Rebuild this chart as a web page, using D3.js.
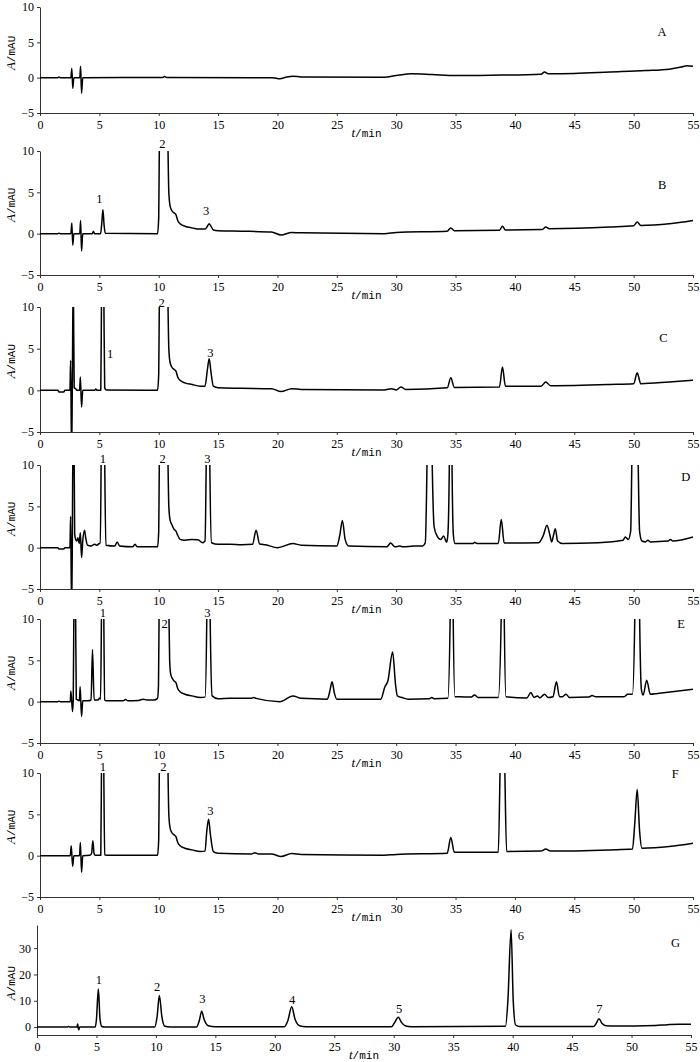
<!DOCTYPE html>
<html><head><meta charset="utf-8">
<script src="https://cdn.jsdelivr.net/npm/d3@7"></script>
<style>
body{margin:0;background:#fff;}
svg{display:block;}
</style></head><body>
<svg id="chart" width="700" height="1062"></svg>
<script>
// ---------------- data ----------------
const timeTicks = [0,5,10,15,20,25,30,35,40,45,50,55];
const absTicks = [-5,0,5,10];
const absTicksG = [0,10,20,30];
const panelNames = ["A","B","C","D","E","F","G"];

const traceA = [[0,0],[1.5,0],[1.6,0.1],[1.7,0],[2.6,0],[2.68,1.3],[2.76,-1.5],[2.85,0],[3.35,0],[3.42,1.6],[3.5,-2.2],[3.6,0],[10.3,0.02],[10.5,0.15],[10.7,0.02],[19.6,0],[20.2,-0.15],[20.8,0.1],[21.3,0.2],[22,0.1],[29,0.05],[30,0.3],[31.3,0.55],[33,0.45],[35,0.3],[38,0.35],[42.2,0.5],[42.5,0.8],[42.8,0.55],[45,0.6],[48,0.8],[51,1.0],[53,1.2],[54,1.5],[54.5,1.7],[55,1.6]];

const traceB = [[0,0],[1.5,0],[1.6,0.05],[1.7,0],[2.6,0],[2.68,1.3],[2.76,-1.4],[2.85,0],[3.35,0],[3.42,1.6],[3.5,-2.1],[3.6,0],[4.4,0],[4.5,0.3],[4.6,0],[5.1,0],[5.2,1.2],[5.3,2.9],[5.4,1.0],[5.5,0.05],[9.9,0],[10.0,2],[10.05,10.5],[10.3,40],[10.6,40],[10.78,10.5],[10.85,5],[10.95,3.4],[11.1,2.8],[11.3,2.5],[11.45,2.3],[11.6,1.6],[11.8,1.2],[12.2,0.9],[12.8,0.7],[13.5,0.55],[13.9,0.55],[14.1,0.9],[14.25,1.2],[14.4,0.9],[14.6,0.45],[15,0.35],[17,0.3],[19.5,0.2],[20.3,-0.15],[21.2,0.15],[22,0.1],[29,0.0],[30,0.15],[34.3,0.3],[34.6,0.7],[34.9,0.35],[38.7,0.4],[38.95,0.9],[39.2,0.45],[42.3,0.5],[42.6,0.8],[42.9,0.6],[48,0.8],[50,0.95],[50.3,1.4],[50.6,1.0],[53,1.2],[55,1.6]];

const traceC = [[0,0],[1.5,0],[1.6,-0.2],[2.0,-0.2],[2.1,0],[2.52,0],[2.58,3.6],[2.66,-8],[2.72,0],[2.8,14],[2.88,0.3],[3.0,0.2],[3.1,0],[3.33,0],[3.4,1.6],[3.5,-2.0],[3.6,0],[4.6,0],[4.7,0.15],[4.8,0],[5.12,0],[5.18,11],[5.28,30],[5.38,11],[5.45,0.3],[5.6,0.05],[9.9,0],[10.0,2],[10.05,10.5],[10.3,40],[10.6,40],[10.78,10.5],[10.85,5],[10.95,3.4],[11.1,2.8],[11.3,2.5],[11.45,2.3],[11.6,1.6],[11.8,1.2],[12.2,0.9],[12.8,0.7],[13.5,0.5],[13.9,0.5],[14.1,2.5],[14.25,3.8],[14.4,2.2],[14.6,0.5],[15,0.3],[17,0.25],[19.5,0.2],[20.3,-0.15],[21.2,0.2],[22,0.1],[29,0.05],[29.6,0.2],[30.0,0.05],[30.4,0.4],[30.8,0.1],[34.3,0.3],[34.6,1.5],[34.9,0.35],[38.7,0.4],[38.95,2.8],[39.2,0.5],[42.2,0.5],[42.6,1.0],[43.0,0.55],[48,0.7],[50.0,0.8],[50.3,2.1],[50.6,0.8],[53,1.0],[55,1.2]];

const traceD = [[0,0],[1.5,0],[1.6,-0.15],[2.0,-0.15],[2.1,0],[2.52,0],[2.58,3.8],[2.66,-8],[2.72,0],[2.78,14],[2.86,14],[2.92,1.7],[3.0,1.0],[3.1,0.8],[3.2,1.2],[3.3,0.5],[3.4,1.8],[3.5,-1.2],[3.6,0.8],[3.75,2.1],[3.85,1.2],[4.0,0.3],[4.3,0.2],[4.6,0.4],[4.8,0.3],[5.0,0.5],[5.08,0.5],[5.15,10.5],[5.3,40],[5.45,10.5],[5.55,0.3],[6.3,0.2],[6.5,0.7],[6.7,0.2],[7.8,0.1],[8.0,0.4],[8.2,0.1],[9.9,0.1],[10.0,2],[10.05,10.5],[10.3,40],[10.6,40],[10.78,10.5],[10.85,5],[10.95,3.4],[11.1,2.8],[11.3,2.2],[11.45,2.0],[11.6,1.5],[11.8,1.0],[12.2,0.9],[12.8,1.0],[13.3,0.95],[13.7,0.6],[13.9,0.8],[14.0,10.5],[14.15,40],[14.3,10.5],[14.45,0.6],[15,0.4],[16,0.4],[17,0.35],[17.9,0.4],[18.2,2.1],[18.5,0.45],[19,0.35],[20.0,0.0],[21.3,0.5],[22,0.3],[25.0,0.2],[25.25,1.5],[25.47,3.3],[25.7,1.0],[26.0,0.2],[29.2,0.1],[29.53,0.55],[29.9,0.1],[30.3,0.2],[30.6,0.1],[31.5,0.2],[32.2,0.2],[32.45,0.6],[32.6,10.5],[32.8,40],[33.03,10.5],[33.2,2.5],[33.45,1.4],[33.75,1.0],[34.0,1.4],[34.25,0.65],[34.35,1.5],[34.48,10.5],[34.6,40],[34.7,10.5],[34.82,1.5],[34.95,0.5],[36.5,0.5],[36.6,0.65],[36.8,0.5],[38.6,0.5],[38.85,3.4],[39.1,0.55],[42.0,0.6],[42.4,1.5],[42.7,2.7],[42.95,1.5],[43.1,0.7],[43.25,1.5],[43.4,2.3],[43.6,0.8],[44,0.5],[47,0.6],[49.1,0.9],[49.3,1.3],[49.55,1.0],[49.75,2],[49.85,10.5],[50.1,40],[50.38,10.5],[50.5,2],[50.7,0.8],[51.0,0.7],[51.2,0.9],[51.4,0.7],[52.9,0.8],[53.1,1.0],[53.3,0.8],[55,1.3]];

const traceE = [[0,0],[1.5,0],[1.6,0.05],[1.7,0],[2.55,0],[2.6,1.3],[2.74,-1.2],[2.8,0.2],[2.85,10.5],[2.92,30],[3.0,10.5],[3.06,0.3],[3.2,0.2],[3.32,0.1],[3.38,1.8],[3.5,-1.8],[3.6,0.1],[4.0,0.1],[4.3,0.2],[4.42,6.3],[4.56,0.2],[4.9,0.2],[5.0,0.45],[5.1,0.3],[5.18,11],[5.28,30],[5.37,11],[5.45,0.2],[5.6,0.1],[7.0,0.1],[7.2,0.25],[7.4,0.1],[8.3,0.15],[8.7,0.3],[9.0,0.2],[9.6,0.2],[9.9,0.4],[9.98,2],[10.03,10.5],[10.3,40],[10.7,40],[10.86,10.5],[10.92,5],[11.0,3.4],[11.15,2.8],[11.3,2.5],[11.45,2.3],[11.6,1.6],[11.8,1.2],[12.2,0.9],[12.8,0.7],[13.5,0.5],[13.9,0.55],[14.05,10.5],[14.2,40],[14.33,10.5],[14.5,0.7],[15,0.35],[16,0.4],[17.8,0.4],[18.0,0.5],[18.2,0.4],[20.2,0.0],[21.3,0.7],[22,0.4],[24.2,0.3],[24.4,1.2],[24.6,2.4],[24.8,1.0],[25.0,0.3],[28.7,0.3],[29.05,1.8],[29.3,2.5],[29.7,6.0],[29.95,2.0],[30.1,0.7],[30.5,0.5],[31,0.3],[32.8,0.35],[33.0,0.5],[33.2,0.35],[34.35,0.4],[34.55,10.5],[34.68,40],[34.8,10.5],[34.95,0.6],[35.3,0.6],[36.3,0.55],[36.6,0.8],[36.9,0.5],[38.6,0.5],[38.85,10.5],[39.0,40],[39.1,10.5],[39.25,0.6],[41.0,0.45],[41.35,1.1],[41.6,0.5],[41.9,0.7],[42.1,0.45],[42.5,0.9],[42.8,0.5],[43.2,0.6],[43.5,2.4],[43.75,0.6],[44.0,0.6],[44.3,0.9],[44.6,0.5],[46.2,0.55],[46.5,0.75],[46.8,0.6],[49.2,0.6],[49.5,0.9],[49.9,0.9],[50.1,10.5],[50.3,40],[50.5,10.5],[50.65,1.5],[50.8,0.8],[51.1,2.6],[51.4,0.9],[52,1.0],[55,1.5]];

const traceF = [[0,0],[1.5,0],[2.55,0],[2.63,1.2],[2.75,-1.3],[2.85,0],[3.33,0],[3.4,1.6],[3.5,-2.0],[3.6,0],[4.2,0.05],[4.35,0.3],[4.45,1.8],[4.55,0.3],[4.65,0.05],[5.12,0.05],[5.18,11],[5.28,30],[5.37,11],[5.45,0.1],[5.6,0.05],[9.9,0.05],[10.0,2],[10.05,10.5],[10.3,40],[10.6,40],[10.78,10.5],[10.85,5],[10.95,3.4],[11.1,2.8],[11.3,2.5],[11.45,2.3],[11.6,1.6],[11.8,1.2],[12.2,0.9],[12.8,0.7],[13.5,0.5],[13.9,0.55],[14.05,3.0],[14.2,4.4],[14.35,2.6],[14.6,0.5],[15,0.3],[17.8,0.2],[18.1,0.35],[18.4,0.2],[19.5,0.2],[20.3,-0.1],[21.2,0.25],[22,0.15],[29,0.05],[30,0.15],[34.3,0.3],[34.6,2.2],[34.9,0.4],[38.6,0.4],[38.75,10.5],[38.95,30],[39.15,10.5],[39.3,0.5],[42.2,0.55],[42.6,0.8],[43.0,0.55],[48,0.7],[49.9,0.8],[50.1,4],[50.3,8.0],[50.5,3],[50.7,0.9],[53,1.1],[55,1.5]];

const traceG = [[0,0],[2.5,0],[2.65,0.2],[2.8,0],[3.35,0],[3.42,1.2],[3.5,-1.0],[3.6,0],[4.9,0],[5.0,3],[5.16,14.5],[5.3,3],[5.45,0.2],[5.7,0],[9.9,0],[10.1,4],[10.29,12],[10.5,4],[10.75,0.3],[11.2,0],[13.4,0],[13.65,2.5],[13.85,6],[14.05,3],[14.4,0.5],[15,0.1],[20.8,0.1],[21.1,2.5],[21.42,7.7],[21.7,3],[22.1,0.5],[22.6,0.1],[29.8,0.1],[30.05,1.5],[30.39,3.7],[30.65,1.8],[31.0,0.4],[31.5,0.1],[39.4,0.3],[39.6,10],[39.87,37],[40.05,10],[40.25,0.8],[40.6,0.2],[46.8,0.2],[47.0,1.2],[47.27,3.2],[47.5,1.5],[47.9,0.5],[48.5,0.4],[52,0.6],[53,0.9],[54,1.1],[55,1.1]];

// peak number labels: [text, time, absorbance]
const labelsA = [];
const labelsB = [["1",5.0,4.3],["2",10.3,10.85],["3",14.0,2.75]];
const labelsC = [["1",5.9,4.4],["2",10.25,10.6],["3",14.35,4.6]];
const labelsD = [["1",5.3,10.73],["2",10.33,10.73],["3",14.1,10.73]];
const labelsE = [["1",5.3,10.73],["2",10.5,9.5],["3",14.1,10.73]];
const labelsF = [["1",5.3,10.73],["2",10.4,10.73],["3",14.35,5.5]];
const labelsG = [["1",5.2,18.2],["2",10.1,15.6],["3",13.9,11.0],["4",21.45,10.6],["5",30.45,7.2],["6",40.7,34.9],["7",47.3,7.2]];
// panel letter anchors: [time, absorbance]
const letterPos = [[52.4,6.5],[52.4,6.0],[52.5,6.3],[54.4,8.55],[54.0,9.5],[53.5,10.0],[53.7,32.3]];

// ---------------- layout ----------------
const layout = [
  {top:7,   bottom:113,  left:40, right:693, dom:[-5,10],   ticks:absTicks,  lab:3.5},
  {top:151, bottom:275,  left:40, right:693, dom:[-5,10],   ticks:absTicks,  lab:3.5},
  {top:307, bottom:432,  left:40, right:693, dom:[-5,10],   ticks:absTicks,  lab:3.5},
  {top:465, bottom:589,  left:40, right:693, dom:[-5,10],   ticks:absTicks,  lab:3.5},
  {top:619, bottom:743,  left:40, right:693, dom:[-5,10],   ticks:absTicks,  lab:3.5},
  {top:773, bottom:897,  left:40, right:693, dom:[-5,10],   ticks:absTicks,  lab:3.5},
  {top:925, bottom:1035, left:37, right:691, dom:[-3,38.8], ticks:absTicksG, lab:16.7}
];
const traces = [traceA,traceB,traceC,traceD,traceE,traceF,traceG];
const labels = [labelsA,labelsB,labelsC,labelsD,labelsE,labelsF,labelsG];

const FONT = "'Liberation Serif','Times New Roman',serif";
const svg = d3.select("#chart");
const defs = svg.append("defs");

layout.forEach((p,i)=>{
  const x = d3.scaleLinear().domain([0,55]).range([p.left,p.right]);
  const y = d3.scaleLinear().domain(p.dom).range([p.bottom,p.top]);
  const g = svg.append("g");
  const cid = "clip"+i;
  defs.append("clipPath").attr("id",cid).append("rect")
    .attr("x",p.left).attr("y",p.top).attr("width",p.right-p.left).attr("height",p.bottom-p.top);

  const xa = g.append("g").attr("transform",`translate(0,${p.bottom})`)
    .call(d3.axisBottom(x).tickValues(timeTicks).tickSize(3).tickSizeOuter(0).tickPadding(4).tickFormat(d3.format("d")));
  const ya = g.append("g").attr("transform",`translate(${p.left},0)`)
    .call(d3.axisLeft(y).tickValues(p.ticks).tickSize(3).tickSizeOuter(0).tickPadding(3));
  [xa,ya].forEach(a=>{
    a.attr("font-family",FONT).attr("font-size",12);
    a.selectAll("path,line").attr("stroke","#333");
    a.selectAll("text").attr("fill","#000");
  });

  const line = d3.line().x(d=>x(d[0])).y(d=>y(d[1])).curve(d3.curveMonotoneX);
  g.append("path").datum(traces[i]).attr("clip-path",`url(#${cid})`)
    .attr("d",line).attr("fill","none").attr("stroke","#000").attr("stroke-width",1.5)
    .attr("stroke-linejoin","round");

  // peak labels
  g.selectAll("text.pk").data(labels[i]).enter().append("text").attr("class","pk")
    .attr("x",d=>x(d[1])).attr("y",d=>y(d[2])+4.5)
    .attr("text-anchor","middle").attr("font-family",FONT).attr("font-size",12.5)
    .text(d=>d[0]);

  // panel letter
  g.append("text").attr("x",x(letterPos[i][0])).attr("y",y(letterPos[i][1])+4.5)
    .attr("text-anchor","middle").attr("font-family",FONT).attr("font-size",12.5)
    .text(panelNames[i]);

  // x title
  const xt = g.append("text").attr("x",x(27.5)).attr("y",p.bottom+24)
    .attr("text-anchor","middle").attr("font-family","'Liberation Mono',monospace").attr("font-size",11);
  xt.append("tspan").attr("font-style","italic").attr("font-family",FONT).attr("font-size",13).text("t");
  xt.append("tspan").text("/min");

  // y title
  const yt = g.append("text").attr("transform",`translate(15,${y(p.lab)}) rotate(-90)`)
    .attr("text-anchor","middle").attr("font-family","'Liberation Mono',monospace").attr("font-size",11);
  yt.append("tspan").attr("font-style","italic").attr("font-family",FONT).attr("font-size",13).text("A");
  yt.append("tspan").text("/mAU");
});
</script>
</body></html>
